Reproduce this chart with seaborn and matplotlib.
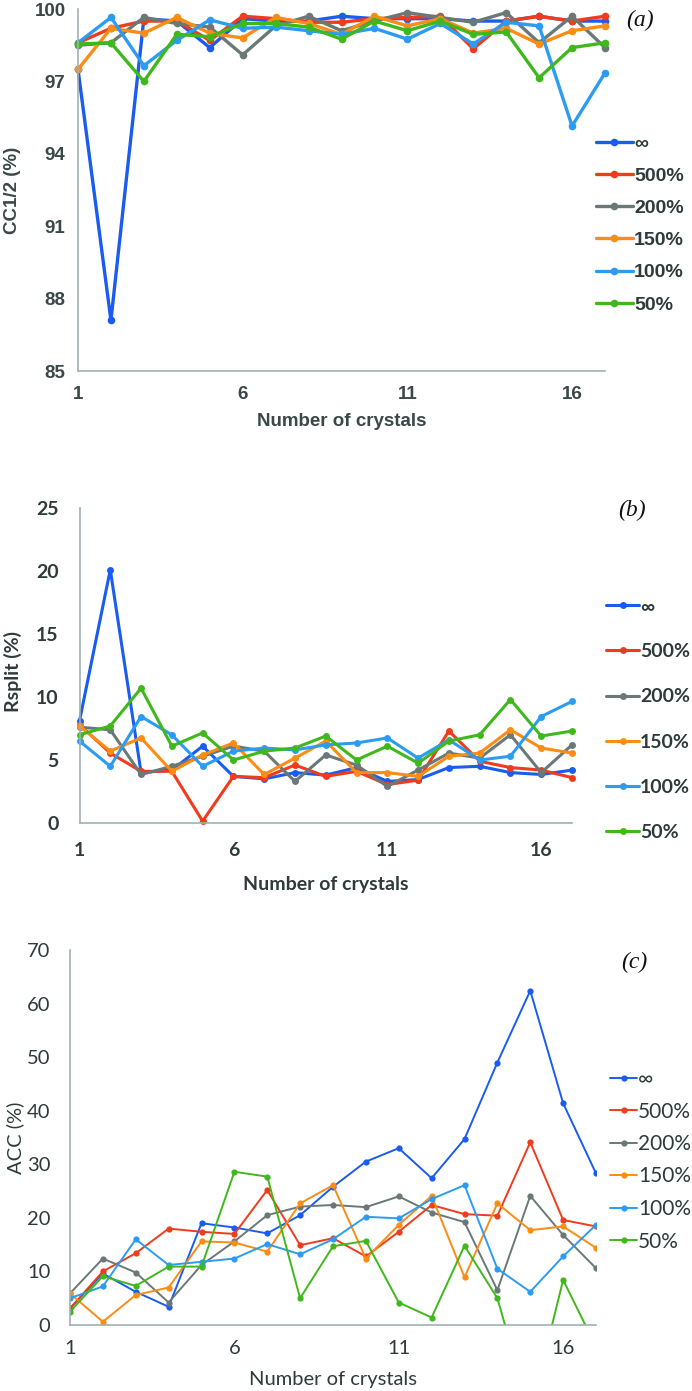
import numpy as np
import pandas as pd
import matplotlib
matplotlib.use('Agg')
import matplotlib.pyplot as plt
import seaborn as sns

# number of crystals merged
crystals = list(range(1, 18))
series_names = ['∞', '500%', '200%', '150%', '100%', '50%']
colors = ['#1a5cf0', '#f03c1c', '#6b7878', '#fb8c14', '#2b9cf2', '#3fb81c']

# (a) CC1/2 (%)
cc_inf = [97.5, 87.1, 99.6, 99.5, 98.4, 99.6, 99.5, 99.5, 99.7, 99.6, 99.6, 99.6, 99.5, 99.5, 99.7, 99.5, 99.5]
cc_500 = [98.6, 99.2, 99.5, 99.5, 98.7, 99.7, 99.6, 99.45, 99.45, 99.6, 99.65, 99.7, 98.35, 99.5, 99.7, 99.5, 99.7]
cc_200 = [98.5, 98.6, 99.65, 99.4, 99.25, 98.1, 99.3, 99.7, 99.1, 99.5, 99.85, 99.65, 99.45, 99.85, 98.6, 99.7, 98.4]
cc_150 = [97.5, 99.2, 99.0, 99.65, 99.0, 98.8, 99.65, 99.4, 98.95, 99.7, 99.3, 99.6, 99.0, 99.2, 98.55, 99.1, 99.3]
cc_100 = [98.6, 99.65, 97.65, 98.7, 99.55, 99.2, 99.25, 99.1, 98.95, 99.2, 98.75, 99.4, 98.55, 99.45, 99.3, 95.15, 97.35]
cc_50 = [98.55, 98.6, 97.0, 98.95, 98.85, 99.4, 99.4, 99.25, 98.75, 99.5, 99.1, 99.5, 98.95, 99.05, 97.15, 98.4, 98.6]

# (b) Rsplit (%)
rs_inf = [8.1, 20.1, 4.0, 4.2, 6.1, 3.7, 3.5, 4.0, 3.8, 4.4, 3.3, 3.45, 4.4, 4.5, 4.0, 3.85, 4.2]
rs_500 = [7.8, 5.55, 4.1, 4.1, 0.15, 3.7, 3.6, 4.6, 3.7, 4.1, 3.05, 3.4, 7.3, 4.9, 4.4, 4.2, 3.6]
rs_200 = [7.6, 7.4, 3.85, 4.5, 5.3, 6.1, 5.7, 3.3, 5.4, 4.6, 2.9, 4.2, 5.55, 5.15, 7.0, 4.0, 6.2]
rs_150 = [7.7, 5.7, 6.75, 4.1, 5.4, 6.35, 3.85, 5.15, 6.5, 4.0, 4.0, 3.7, 5.3, 5.55, 7.4, 5.95, 5.55]
rs_100 = [6.5, 4.5, 8.45, 7.0, 4.5, 5.7, 5.95, 5.8, 6.2, 6.35, 6.75, 5.15, 6.6, 5.0, 5.3, 8.45, 9.65]
rs_50 = [7.0, 7.7, 10.7, 6.1, 7.15, 5.0, 5.7, 5.95, 6.9, 5.0, 6.1, 4.75, 6.5, 7.0, 9.8, 6.9, 7.3]

# (c) ACC (%)
acc_inf = [3.1, 9.6, 6.2, 3.4, 19.0, 18.2, 17.1, 20.5, 25.8, 30.5, 33.0, 27.4, 34.7, 49.0, 62.4, 41.4, 28.3]
acc_500 = [3.1, 10.0, 13.4, 18.0, 17.4, 17.0, 25.2, 14.9, 16.2, 12.8, 17.4, 22.4, 20.7, 20.4, 34.1, 19.6, 18.4]
acc_200 = [5.9, 12.4, 9.8, 4.2, 11.2, 15.6, 20.5, 22.1, 22.4, 22.0, 24.0, 21.0, 19.2, 6.5, 24.1, 16.8, 10.6]
acc_150 = [5.9, 0.6, 5.6, 7.0, 15.6, 15.4, 13.7, 22.7, 26.1, 12.4, 18.7, 24.1, 8.9, 22.7, 17.7, 18.4, 14.4]
acc_100 = [5.0, 7.2, 16.0, 11.2, 11.8, 12.4, 15.1, 13.2, 16.0, 20.2, 19.9, 23.5, 26.1, 10.5, 6.2, 12.8, 18.7]
acc_50 = [2.5, 9.1, 7.3, 10.9, 10.9, 28.6, 27.7, 5.0, 14.7, 15.7, 4.2, 1.4, 14.8, 5.0, -16.5, 8.4, -4.0]

W, H = 692, 1391
FIG_DPI = 100


def long_frame(values):
    rows = []
    for name, vals in zip(series_names, values):
        for x, v in zip(crystals, vals):
            rows.append({'crystals': x, 'value': v, 'series': name})
    return pd.DataFrame(rows)


def px_axes(fig, left, right, top, bottom):
    return fig.add_axes([left / W, 1 - bottom / H, (right - left) / W, (bottom - top) / H])


def draw_panel(ax, values, ylim, yticks, ylabel, font, weight, txt_color,
               lw, ms, fs, clip):
    df = long_frame(values)
    sns.lineplot(data=df, x='crystals', y='value', hue='series',
                 hue_order=series_names, palette=dict(zip(series_names, colors)),
                 marker='o', markersize=ms, markeredgewidth=0, linewidth=lw,
                 estimator=None, sort=False, legend=True, ax=ax, clip_on=clip)
    ax.set_xlim(1, 17)
    ax.set_ylim(*ylim)
    ax.set_xticks([1, 6, 11, 16])
    ax.set_yticks(yticks)
    for s in ['top', 'right']:
        ax.spines[s].set_visible(False)
    for s in ['left', 'bottom']:
        ax.spines[s].set_color('#9fb3b3')
        ax.spines[s].set_linewidth(1.2)
    ax.tick_params(length=0, labelsize=fs, labelcolor=txt_color)
    for lab in ax.get_xticklabels() + ax.get_yticklabels():
        lab.set_fontfamily(font)
        lab.set_fontweight(weight)
    ax.set_xlabel('Number of crystals', fontsize=fs, family=font,
                  weight=weight, color=txt_color)
    ax.set_ylabel(ylabel, fontsize=fs, family=font, weight=weight,
                  color=txt_color, va='center')
    ax.grid(False)


sns.set_theme(style='white')
fig = plt.figure(figsize=(W / FIG_DPI, H / FIG_DPI), dpi=FIG_DPI)

# ---- (a)
ax_a = px_axes(fig, 78, 605, 9, 371)
draw_panel(ax_a, [cc_inf, cc_500, cc_200, cc_150, cc_100, cc_50], (85, 100),
           [85, 88, 91, 94, 97, 100], 'CC1/2 (%)', 'Liberation Sans', 'bold',
           '#3b4848', 2.4, 5.5, 13.5, False)
ax_a.tick_params(axis='y', pad=9)
ax_a.tick_params(axis='x', pad=11)
ax_a.xaxis.labelpad = 7
ax_a.yaxis.set_label_coords(-0.125, 0.5)

# ---- (b)
ax_b = px_axes(fig, 79.5, 572, 508, 823)
draw_panel(ax_b, [rs_inf, rs_500, rs_200, rs_150, rs_100, rs_50], (0, 25),
           [0, 5, 10, 15, 20, 25], 'Rsplit (%)', 'Lato', 'bold',
           '#2f3a3a', 2.2, 5, 14, False)
ax_b.tick_params(axis='y', pad=15)
ax_b.tick_params(axis='x', pad=14)
ax_b.xaxis.labelpad = 12
ax_b.yaxis.set_label_coords(-0.135, 0.48)

# ---- (c)
ax_c = px_axes(fig, 70, 596, 950, 1325)
draw_panel(ax_c, [acc_inf, acc_500, acc_200, acc_150, acc_100, acc_50], (0, 70),
           [0, 10, 20, 30, 40, 50, 60, 70], 'ACC (%)', 'Lato', 'normal',
           '#2f3a3a', 1.4, 4.5, 14.5, True)
ax_c.tick_params(axis='y', pad=14)
ax_c.tick_params(axis='x', pad=11)
ax_c.xaxis.labelpad = 10
ax_c.yaxis.set_label_coords(-0.105, 0.5)

# legends, placed in figure pixels
legend_specs = [
    (ax_a, 596, 135, 'Liberation Sans', 'bold', 14, 0.75, 1.9),
    (ax_b, 606, 598, 'Lato', 'bold', 14, 1.45, 1.7),
    (ax_c, 610, 1069, 'Lato', 'normal', 15, 0.6, 1.3),
]
for ax, lx, ly, font, weight, fs, spacing, hlen in legend_specs:
    handles, labels = ax.get_legend_handles_labels()
    leg = ax.legend(handles, labels, loc='upper left',
                    bbox_to_anchor=(lx / W, 1 - ly / H),
                    bbox_transform=fig.transFigure, frameon=False,
                    borderpad=0, borderaxespad=0, handlelength=hlen,
                    handletextpad=0.05, labelspacing=spacing,
                    prop={'family': font, 'weight': weight, 'size': fs})
    for t in leg.get_texts():
        t.set_color('#2f3a3a')

# panel letters
for label, x, y in [('(a)', 640, 20), ('(b)', 632, 510), ('(c)', 634, 962)]:
    fig.text(x / W, 1 - y / H, label, ha='center', va='center',
             family='Liberation Serif', style='italic', fontsize=17, color='#111111')

fig.savefig('out.png', dpi=FIG_DPI)
